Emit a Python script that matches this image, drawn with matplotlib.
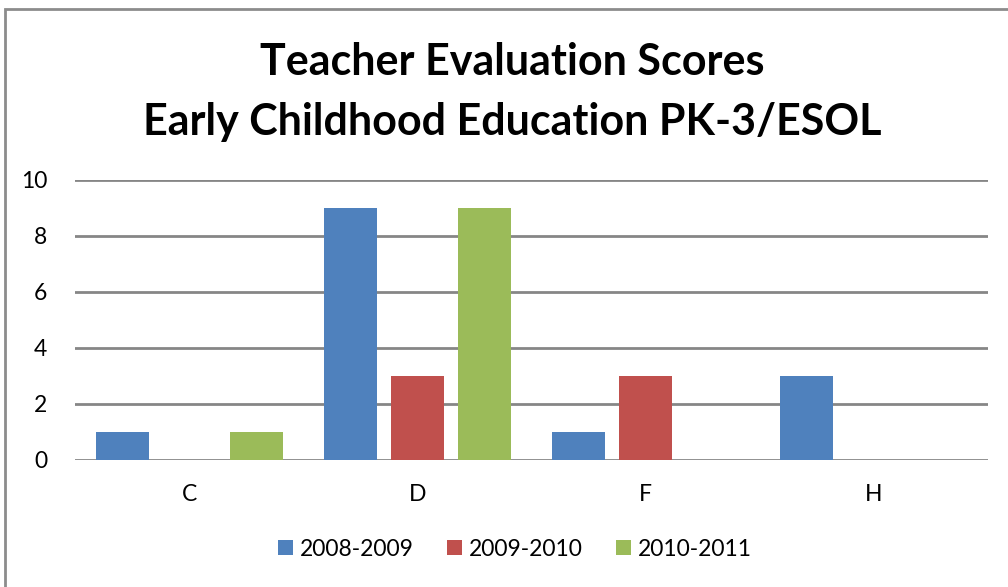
import numpy as np
import matplotlib.pyplot as plt
from matplotlib.patches import Rectangle

plt.rcParams['font.family'] = ['Lato', 'DejaVu Sans']

# data
categories = ['C', 'D', 'F', 'H']
series = ['2008-2009', '2009-2010', '2010-2011']
values_0809 = [1, 9, 1, 3]
values_0910 = [0, 3, 3, 0]
values_1011 = [1, 9, 0, 0]
colors = ['#4F81BD', '#C0504D', '#9BBB59']

fig = plt.figure(figsize=(10.08, 5.87), dpi=100)
ax = fig.add_axes([75 / 1008, (587 - 460) / 587, 913 / 1008, 280 / 587])

# chart border (only left and top visible in the original)
fig.patches.append(Rectangle((5 / 1008, -0.1), 1.1, (587 - 9) / 587 + 0.1,
                             transform=fig.transFigure, fill=False,
                             edgecolor='#8c8c8c', linewidth=2))

x = np.arange(len(categories))
step = 0.2935
width = 0.232
for i, (vals, lab) in enumerate(zip([values_0809, values_0910, values_1011], series)):
    ax.bar(x + (i - 1) * step, vals, width, color=colors[i], label=lab,
           edgecolor='none', zorder=3)

ax.set_xlim(-0.5, 3.5)
ax.set_ylim(0, 10)
ax.set_yticks(range(0, 11, 2))
ax.set_xticks(x)
ax.set_xticklabels(categories)
ax.grid(axis='y', color='#868686', linewidth=2, zorder=1)
for s in ax.spines.values():
    s.set_visible(False)
ax.tick_params(axis='both', length=0, labelsize=16.5)
ax.tick_params(axis='x', pad=17)
ax.tick_params(axis='y', pad=20)

fig.text(512 / 1008, 1 - 62 / 587, 'Teacher Evaluation Scores', ha='center',
         va='center', fontsize=31, fontweight='bold')
fig.text(512 / 1008, 1 - 122 / 587, 'Early Childhood Education PK-3/ESOL',
         ha='center', va='center', fontsize=31, fontweight='bold')

fig.legend(loc='center', bbox_to_anchor=(515 / 1008, 1 - 549 / 587), ncol=3,
           frameon=False, fontsize=16.5, handlelength=0.65, handleheight=0.65,
           handletextpad=0.3, columnspacing=1.45)

fig.savefig('out.png', dpi=100)
